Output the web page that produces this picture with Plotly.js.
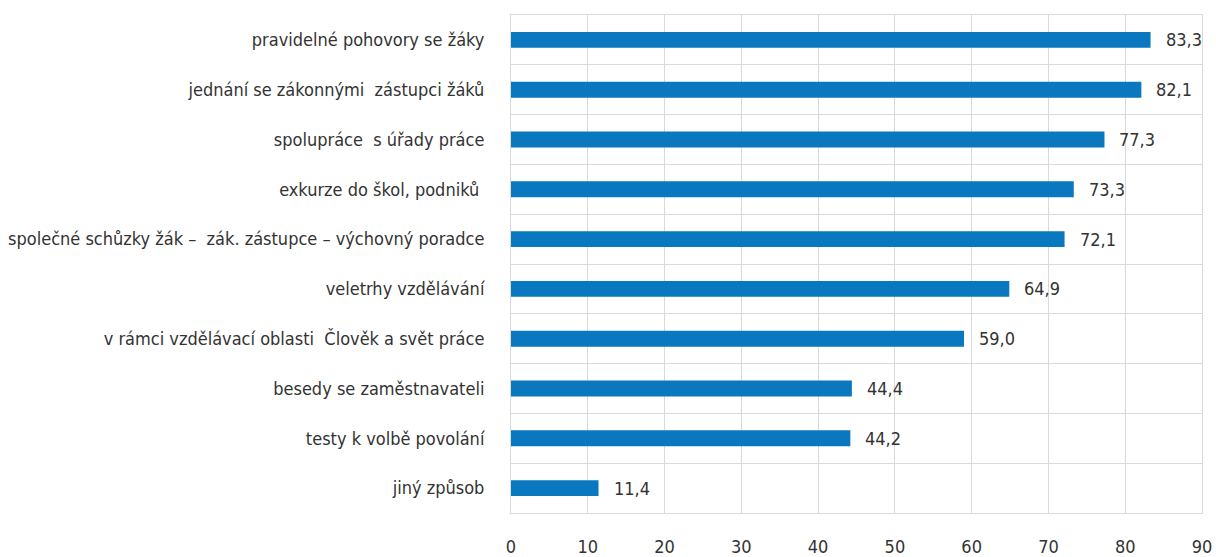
<!DOCTYPE html>
<html><head><meta charset="utf-8">
<script src="https://cdn.plot.ly/plotly-3.0.1.min.js"></script>
<style>html,body{margin:0;padding:0;background:#fff;}#chart{width:1216px;height:557px;}</style>
</head><body><div id="chart"></div>
<script>
const categories = [
  "pravidelné pohovory se žáky",
  "jednání se zákonnými  zástupci žáků",
  "spolupráce  s úřady práce",
  "exkurze do škol, podniků ",
  "společné schůzky žák –  zák. zástupce – výchovný poradce",
  "veletrhy vzdělávání",
  "v rámci vzdělávací oblasti  Člověk a svět práce",
  "besedy se zaměstnavateli",
  "testy k volbě povolání",
  "jiný způsob"
];
const values = [83.3, 82.1, 77.3, 73.3, 72.1, 64.9, 59.0, 44.4, 44.2, 11.4];
const xTicks = [0,10,20,30,40,50,60,70,80,90];

const FONT = "'DejaVu Sans Condensed', 'Liberation Sans Narrow', sans-serif";
const fmt = v => v.toFixed(1).replace('.', ',');

const trace = {
  type: 'bar', orientation: 'h',
  x: values, y: categories,
  width: 0.32,
  marker: {color: '#0a78bf', line: {width: 0}},
  hoverinfo: 'none'
};

const annotations = values.map((v, i) => ({
  x: v, y: categories[i], xref: 'x', yref: 'y',
  text: fmt(v), showarrow: false, xanchor: 'left', xshift: 13,
  font: {family: FONT, size: 18, color: '#333333'}
}));

const layout = {
  width: 1216, height: 557,
  margin: {l: 511, r: 14, t: 15, b: 44},
  paper_bgcolor: '#ffffff', plot_bgcolor: '#ffffff',
  showlegend: false,
  font: {family: FONT, size: 18, color: '#333333'},
  xaxis: {
    range: [0, 90], tickvals: xTicks, ticktext: xTicks.map(String),
    showgrid: true, gridcolor: '#d9d9d9', gridwidth: 1,
    zeroline: false, showline: true, mirror: true, linecolor: '#d9d9d9', linewidth: 1,
    ticks: '', ticklabelstandoff: 17,
    tickfont: {family: FONT, size: 18, color: '#333333'},
    fixedrange: true
  },
  yaxis: {
    type: 'category', autorange: 'reversed', tickson: 'boundaries',
    showgrid: true, gridcolor: '#d9d9d9', gridwidth: 1,
    zeroline: false, showline: true, mirror: true, linecolor: '#d9d9d9', linewidth: 1,
    ticks: '', ticklabelstandoff: 22,
    tickfont: {family: FONT, size: 18, color: '#333333'},
    fixedrange: true
  },
  annotations: annotations
};

Plotly.newPlot('chart', [trace], layout, {displayModeBar: false, staticPlot: true});
</script></body></html>
